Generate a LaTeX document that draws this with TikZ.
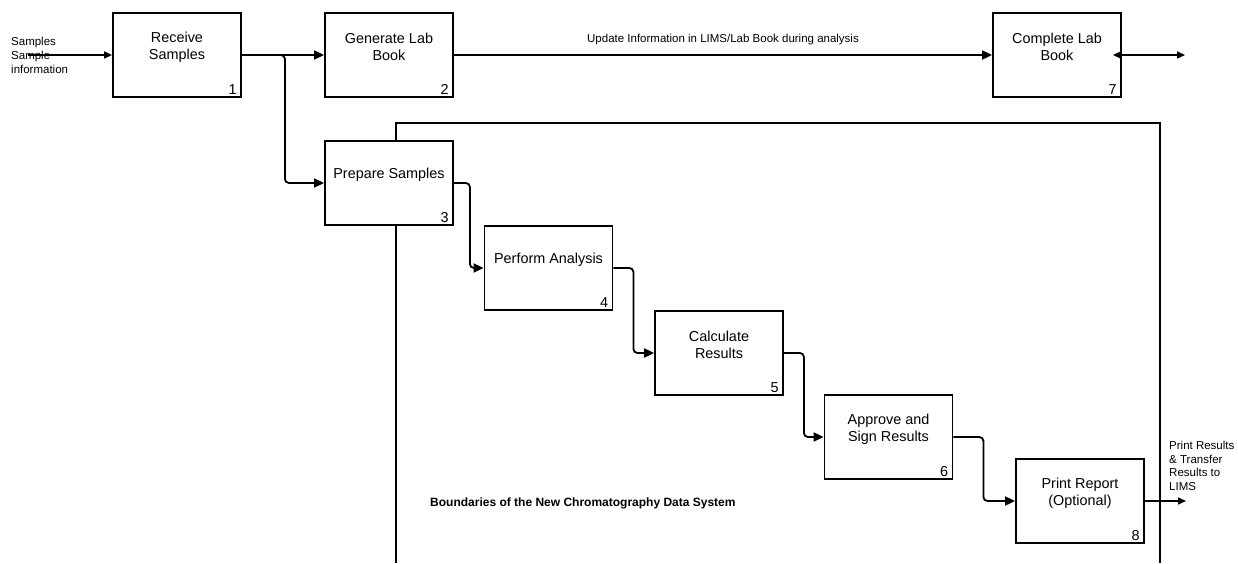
\documentclass[tikz,border=0pt]{standalone}
\usepackage{fontspec}
\setmainfont{Liberation Sans}
\usetikzlibrary{arrows.meta}
\begin{document}
\begin{tikzpicture}[x=1pt,y=1pt,
  procbox/.style={draw=drawColor,line width=1.8pt,fill=white,minimum width=128pt,minimum height=84pt,inner sep=0pt},
  boxtext/.style={align=center,inner sep=0pt,yshift=8pt,font=\fontsize{14.4}{17}\selectfont},
  boxnum/.style={anchor=south east,inner sep=3pt,xshift=-2pt,font=\fontsize{14.4}{17}\selectfont},
  smalltext/.style={inner sep=0pt,font=\fontsize{11.5}{14}\selectfont},
  flow/.style={draw=drawColor,line width=1.8pt,-{Triangle[length=10pt,width=9pt]}},
  thinflow/.style={draw=drawColor,line width=1.5pt,-{Triangle[length=8pt,width=7pt]}}]
\definecolor{drawColor}{RGB}{0,0,0}
\path[use as bounding box,fill=white] (0,0) rectangle (1238,563);

% boundary of the new system
\path[draw=drawColor,line width=1.8pt] (396,0) -- (396,440) -- (1160,440) -- (1160,0);
\node[smalltext,anchor=west,font=\fontsize{12}{14}\selectfont\bfseries] (bound) at (430,60) {Boundaries of the New Chromatography Data System};

% process boxes
\node[procbox,label={[boxtext]center:Receive\\Samples},label={[boxnum]south east:1}] (b1) at (177,508) {};
\node[procbox,label={[boxtext]center:Generate Lab\\Book},label={[boxnum]south east:2}] (b2) at (389,508) {};
\node[procbox,label={[boxtext]center:Complete Lab\\Book},label={[boxnum]south east:7}] (b7) at (1057,508) {};
\node[procbox,label={[boxtext]center:Prepare Samples},label={[boxnum]south east:3}] (b3) at (389,380) {};
\node[procbox,label={[boxtext]center:Perform Analysis},label={[boxnum]south east:4}] (b4) at (548.5,295) {};
\node[procbox,label={[boxtext]center:Calculate\\Results},label={[boxnum]south east:5}] (b5) at (719,210) {};
\node[procbox,label={[boxtext]center:Approve and\\Sign Results},label={[boxnum]south east:6}] (b6) at (888.5,126) {};
\node[procbox,label={[boxtext]center:Print Report\\(Optional)},label={[boxnum]south east:8}] (b8) at (1080,62) {};

% inputs and outputs
\node[smalltext,anchor=west,align=left] (intext) at (11,508) {Samples\\Sample\\information};
\coordinate (in1) at (28,508);
\coordinate (out7) at (1185,508);
\coordinate (out8) at (1186,62);
\node[smalltext,anchor=north west,align=left,font=\fontsize{11.5}{13.5}\selectfont] (outtext) at (1169,122) {Print Results\\\& Transfer\\Results to\\LIMS};

% connectors
\path[thinflow] (in1) -- (b1.west);
\path[flow] (b1.east) -- (b2.west);
\path[flow,rounded corners=4pt] (b1.east) -- ++(43,0) |- (b3.west);
\path[flow] (b2.east) -- node[smalltext,above=9pt] (upd) {Update Information in LIMS/Lab Book during analysis} (b7.west);
\path[thinflow,{Triangle[length=8pt,width=7pt]}-{Triangle[length=8pt,width=7pt]}] ([xshift=-9pt]b7.east) -- (out7);
\path[flow,rounded corners=4pt] (b3.east) -- ++(16,0) |- (b4.west);
\path[flow,rounded corners=4pt] (b4.east) -- ++(20,0) |- (b5.west);
\path[flow,rounded corners=4pt] (b5.east) -- ++(20,0) |- (b6.west);
\path[flow,rounded corners=4pt] (b6.east) -- ++(30,0) |- (b8.west);
\path[thinflow] (b8.east) -- (out8);
\end{tikzpicture}
\end{document}
